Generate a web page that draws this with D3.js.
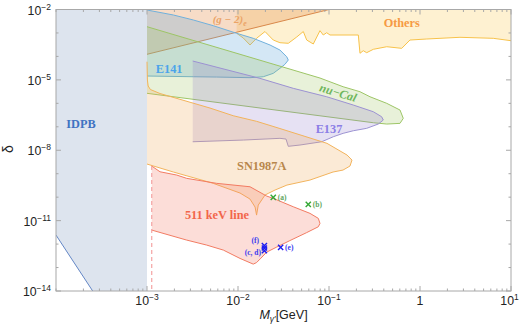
<!DOCTYPE html>
<html><head><meta charset="utf-8">
<script src="https://cdn.jsdelivr.net/npm/d3@7"></script>
<style>body{margin:0;background:#fff} svg{display:block}</style>
</head><body>
<script>
// ---------- data (mass M in GeV, coupling delta) ----------
const xDomain = [1e-4, 10];
const yDomain = [1e-14, 1e-2];
const xTickValues = [1e-3, 1e-2, 1e-1, 1, 10];
const xTickLabels = [["10","−3"],["10","−2"],["10","−1"],["1",""],["10","1"]];
const yTickValues = [1e-14, 1e-11, 1e-8, 1e-5, 1e-2];
const yTickLabels = [["10","−14"],["10","−11"],["10","−8"],["10","−5"],["10","−2"]];

const idpb = [[1e-4,1e-2],[1e-3,1e-2],[1e-3,1e-14],[2.53e-4,1e-14],[1e-4,2.42e-12]];
const idpbEdge = [[1e-4,2.42e-12],[2.53e-4,1e-14]];

const gMinus2 = [[1e-3,1e-2],[1e-3,1.23e-4],[0.1,1e-2]];
const gMinus2Edge = [[1e-3,1.23e-4],[0.1,1e-2]];

const othersEdge = [[9.67e-3,9.66e-4],[1.143e-2,6.09e-4],[1.355e-2,3.06e-4],[1.6e-2,5.91e-4],
  [1.98e-2,1.15e-3],[2.44e-2,5.0e-4],[2.89e-2,3.84e-4],[3.57e-2,3.62e-4],[4.42e-2,6.72e-4],
  [5.22e-2,1.15e-3],[5.69e-2,5.0e-4],[6.72e-2,3.38e-4],[7.96e-2,1.25e-3],[8.65e-2,8.18e-4],
  [9.43e-2,1.025e-3],[0.1026,8.18e-4],[0.210,8.18e-4],[0.219,1.36e-4],[0.238,1.75e-4],
  [0.2595,1.44e-4],[0.307,2.01e-4],[0.431,2.59e-4],[0.630,2.21e-4],[0.776,5.0e-4],
  [1.185,5.52e-4],[2.75,6.53e-4],[6.39,5.91e-4],[10,4.67e-4]];

const e141 = [[1e-3,9.5e-3],[1.95e-3,5.83e-3],[3.23e-3,3.57e-3],[5.35e-3,2.04e-3],[9.67e-3,9.66e-4],
  [1.47e-2,5.91e-4],[2.25e-2,3.06e-4],[2.89e-2,1.87e-4],[3.43e-2,9.7e-5],[3.57e-2,7.02e-5],
  [3.28e-2,4.6e-5],[2.89e-2,3.11e-5],[2.44e-2,1.90e-5],[1.897e-2,1.36e-5],[1.355e-2,1.24e-5],
  [5.83e-3,1.32e-5],[3.23e-3,1.36e-5],[1e-3,1.46e-5]];

const nuCal = [[1e-3,1.85e-3],[7.96e-2,1.20e-5],[0.143,5.1e-6],[0.219,3.13e-6],[0.282,1.91e-6],
  [0.431,1.0e-6],[0.603,5.18e-7],[0.655,2.29e-7],[0.603,1.40e-7],[0.431,1.31e-7],
  [0.307,1.49e-7],[1e-3,2.67e-6]];

const e137 = [[3.18e-3,6.37e-5],[1.745e-2,1.16e-5],[4.05e-2,4.36e-6],[9.43e-2,1.91e-6],
  [0.185,8.46e-7],[0.307,4.38e-7],[0.379,2.68e-7],[0.395,1.94e-7],[0.348,1.31e-7],
  [0.2595,8.59e-8],[0.185,6.79e-8],[0.143,5.26e-8],[0.1116,3.77e-8],[8.31e-2,2.30e-8],
  [4.80e-2,1.67e-8],[3.57e-2,1.47e-8],[3.37e-2,3.0e-8],[2.89e-2,3.22e-8],[1.143e-2,2.72e-8],
  [3.18e-3,2.30e-8]];

const sn1987a = [[1e-3,5.94e-5],[1.01e-3,9.86e-6],[1.03e-3,5.47e-6],[1.09e-3,3.88e-6],
  [1.39e-3,2.62e-6],[4.92e-3,6.3e-7],[8.87e-3,2.96e-7],[1.6e-2,1.71e-7],[2.89e-2,8.42e-8],
  [9.5e-2,1.97e-8],[0.158,6.24e-9],[0.179,3.82e-9],[0.170,2.12e-9],[0.1426,1.43e-9],
  [0.1107,1.18e-9],[6.18e-2,5.36e-10],[3.45e-2,3.28e-10],[2.55e-2,2.01e-10],[2.15e-2,1.45e-10],
  [1.98e-2,1.23e-10],[1.67e-2,4.6e-11],[1.6e-2,1.72e-11],[1.54e-2,3.79e-11],[1.355e-2,8.3e-11],
  [1.052e-2,1.5e-10],[5.35e-3,3.88e-10],[1.95e-3,1.18e-9],[1e-3,2.58e-9]];

const line511 = [[1.127e-3,2.12e-9],[1.39e-3,1.21e-9],[2.12e-3,8.76e-10],[2.73e-3,6.34e-10],
  [5.83e-3,3.88e-10],[1.355e-2,2.78e-10],[2.07e-2,1.11e-10],[2.44e-2,8.89e-11],[4.05e-2,3.9e-11],
  [6.18e-2,2.04e-11],[7.63e-2,1.25e-11],[7.96e-2,7.63e-12],[7.63e-2,5.47e-12],[5.69e-2,3.09e-12],
  [3.72e-2,1.41e-12],[2.66e-2,7.45e-13],[2.07e-2,4.56e-13],[1.79e-2,2.53e-13],[1.6e-2,1.63e-13],
  [1.47e-2,1.40e-13],[1.052e-2,2.45e-13],[6.9e-3,5.55e-13],[4.53e-3,9.06e-13],[2.73e-3,1.48e-12],
  [1.127e-3,3.95e-12]];
const dashed511 = [[1.127e-3,2.12e-9],[1.127e-3,1e-14]];

const greenPoints = [["(a)",0.0244,9.8e-11],["(b)",0.0592,4.93e-11]];
const bluePoints  = [["(f)",0.0195,8.6e-13],["(c)",0.0195,6.8e-13],["(d)",0.0195,5.2e-13],["(e)",0.0294,7.2e-13]];

const regionLabels = [
  {t:"IDPB", m:1.88e-4, d:8.6e-8, c:"#3f73c2", anchor:"middle"},
  {t:"E141", m:1.75e-3, d:1.9e-5, c:"#4ba4ea", anchor:"middle"},
  {t:"Others", m:0.63, d:1.74e-3, c:"#f69a44", anchor:"middle"},
  {t:"E137", m:0.1, d:5.4e-8, c:"#8b7ee6", anchor:"middle"},
  {t:"SN1987A", m:1.82e-2, d:1.43e-9, c:"#b8874c", anchor:"middle"},
  {t:"511 keV line", m:5.87e-3, d:1.13e-11, c:"#f2664a", anchor:"middle"}
];
const nuCalLabel = {t:"nu−Cal", m:0.1225, d:1.95e-6};
const g2Label = {t:"(g − 2)", sub:"e", m:5.27e-3, d:2.58e-3};

// ---------- drawing ----------
const W = 525, H = 332;
const margin = {left:56, right:14, top:9.5, bottom:41};
const x = d3.scaleLog().domain(xDomain).range([margin.left, W - margin.right]);
const y = d3.scaleLog().domain(yDomain).range([H - margin.bottom, margin.top]);

const svg = d3.select("body").append("svg").attr("width", W).attr("height", H);
svg.append("defs").append("clipPath").attr("id","clip").append("rect")
  .attr("x", x.range()[0]).attr("y", y.range()[1])
  .attr("width", x.range()[1]-x.range()[0]).attr("height", y.range()[0]-y.range()[1]);

const plot = svg.append("g").attr("clip-path","url(#clip)");
const lineGen = d3.line().x(d => x(d[0])).y(d => y(d[1]));
const closed = pts => lineGen(pts) + "Z";

function region(fillPts, fill, op, stroke, strokePts) {
  plot.append("path").attr("d", closed(fillPts)).attr("fill", fill).attr("fill-opacity", op).attr("stroke","none");
  if (stroke) plot.append("path").attr("d", lineGen(strokePts || fillPts))
    .attr("fill","none").attr("stroke", stroke).attr("stroke-width", 1).attr("stroke-linejoin","round");
}

const yTopV = yDomain[1], xRightV = xDomain[1];
region(idpb, "#dde4ee", 1, "#6487c6", idpbEdge);
region([[othersEdge[0][0], yTopV], ...othersEdge, [xRightV, yTopV]], "rgb(250,200,70)", 0.25, "#f7c24a", othersEdge);
region(gMinus2, "rgb(230,140,70)", 0.3, "#d9884a", gMinus2Edge);
region(e141, "rgb(100,170,220)", 0.28, "#70b0dc");
region(nuCal, "rgb(150,190,80)", 0.22, "#9dc566");
region(e137, "rgb(140,120,200)", 0.22, "#9c92d2");
region(sn1987a, "rgb(240,170,90)", 0.25, "#f2b35c");
region(line511, "rgb(245,120,100)", 0.25, "#f27b62");
plot.append("path").attr("d", lineGen(dashed511)).attr("fill","none")
  .attr("stroke","#f4a3a3").attr("stroke-width",1.2).attr("stroke-dasharray","4,3");

// markers
function xMark(g, px, py, color) {
  const s = 2.6;
  g.append("path").attr("d", `M${px-s},${py-s}L${px+s},${py+s}M${px-s},${py+s}L${px+s},${py-s}`)
    .attr("stroke", color).attr("stroke-width", 1.4).attr("fill","none");
}
const mk = svg.append("g");
greenPoints.forEach(p => {
  const px = x(p[1]), py = y(p[2]);
  xMark(mk, px, py, "#35a835");
  mk.append("text").attr("x", px+4.5).attr("y", py+2.5).text(p[0])
    .attr("font-family","Liberation Serif, serif").attr("font-size",7.5).attr("font-weight","bold").attr("fill","#5ea65e");
});
bluePoints.forEach(p => xMark(mk, x(p[1]), y(p[2]), "#1c1cf0"));
const bf = bluePoints[0], bd = bluePoints[2], be = bluePoints[3];
const blueText = (t, px, py, anchor) => mk.append("text").attr("x", px).attr("y", py).text(t)
  .attr("text-anchor", anchor).attr("font-family","Liberation Serif, serif").attr("font-size",7.5)
  .attr("font-weight","bold").attr("fill","#3b3bf0");
blueText("(e)", x(be[1])+4.5, y(be[2])+2.5, "start");
blueText("(f)", x(bf[1])-5.5, y(bf[2])-2.5, "end");
blueText("(c, d)", x(bd[1])-3.5, y(bd[2])+4, "end");

// region labels
const lab = svg.append("g").attr("font-family","Liberation Serif, serif").attr("font-weight","bold");
regionLabels.forEach(l => lab.append("text").attr("x", x(l.m)).attr("y", y(l.d))
  .attr("text-anchor", l.anchor).attr("font-size", 12.3).attr("fill", l.c).text(l.t));
lab.append("text").attr("transform", `translate(${x(nuCalLabel.m)},${y(nuCalLabel.d)}) rotate(17)`)
  .attr("text-anchor","middle").attr("font-size",12).attr("font-style","italic").attr("fill","#6fb65c").text(nuCalLabel.t);
const g2t = lab.append("text").attr("x", x(g2Label.m)).attr("y", y(g2Label.d))
  .attr("font-size",11).attr("font-style","italic").attr("fill","#eba467");
g2t.append("tspan").text(g2Label.t);
g2t.append("tspan").attr("dy",3).attr("font-size",8).text(g2Label.sub);

// frame & ticks
const fc = "#a8a8a8";
const frame = svg.append("g");
frame.append("rect").attr("x", x.range()[0]).attr("y", y.range()[1])
  .attr("width", x.range()[1]-x.range()[0]).attr("height", y.range()[0]-y.range()[1])
  .attr("fill","none").attr("stroke", fc).attr("stroke-width",1);

const xMinor = [];
for (let e = -4; e <= 0; e++) for (let k = 1; k <= 9; k++) xMinor.push(k*Math.pow(10,e));
xMinor.push(10);
const yB = y.range()[0], yT = y.range()[1], xL = x.range()[0], xR = x.range()[1];
xMinor.forEach(v => {
  const major = xTickValues.some(t => Math.abs(t - v)/t < 1e-9);
  const len = major ? 5 : 2.5;
  const px = x(v);
  frame.append("line").attr("x1",px).attr("x2",px).attr("y1",yB).attr("y2",yB-len).attr("stroke",fc);
  frame.append("line").attr("x1",px).attr("x2",px).attr("y1",yT).attr("y2",yT+len).attr("stroke",fc);
});
for (let e = -14; e <= -2; e++) {
  const v = Math.pow(10, e);
  const major = yTickValues.some(t => Math.abs(t - v)/t < 1e-9);
  const len = major ? 5 : 2.5;
  const py = y(v);
  frame.append("line").attr("x1",xL).attr("x2",xL+len).attr("y1",py).attr("y2",py).attr("stroke",fc);
  frame.append("line").attr("x1",xR).attr("x2",xR-len).attr("y1",py).attr("y2",py).attr("stroke",fc);
}

const tl = svg.append("g").attr("font-family","Liberation Sans, Arial, sans-serif").attr("fill","#222");
xTickValues.forEach((v,i) => {
  const t = tl.append("text").attr("x", x(v)).attr("y", yB + 14).attr("text-anchor","middle").attr("font-size",12.3);
  t.append("tspan").text(xTickLabels[i][0]);
  if (xTickLabels[i][1]) t.append("tspan").attr("dy",-5).attr("font-size",8.5).text(xTickLabels[i][1]);
  const bb = t.node().getBBox();
  if (bb.x + bb.width > W - 6) t.attr("x", x(v) - (bb.x + bb.width - (W - 6)));
});
yTickValues.forEach((v,i) => {
  const t = tl.append("text").attr("x", xL - 5).attr("y", y(v) + 5).attr("text-anchor","end").attr("font-size",12.3);
  t.append("tspan").text(yTickLabels[i][0]);
  t.append("tspan").attr("dy",-5).attr("font-size",8.5).text(yTickLabels[i][1]);
});

// axis titles
const xt = tl.append("text").attr("x", (xL+xR)/2).attr("y", 318.5).attr("text-anchor","middle").attr("font-size",12.5);
xt.append("tspan").attr("font-style","italic").text("M");
xt.append("tspan").attr("dy",3).attr("font-size",8.5).attr("font-style","italic").text("γ′");
xt.append("tspan").attr("dy",-3).text("[GeV]");
tl.append("text").attr("transform","translate(13,149) rotate(-90)").attr("text-anchor","middle")
  .attr("font-size",14).text("δ");
</script>
</body></html>
